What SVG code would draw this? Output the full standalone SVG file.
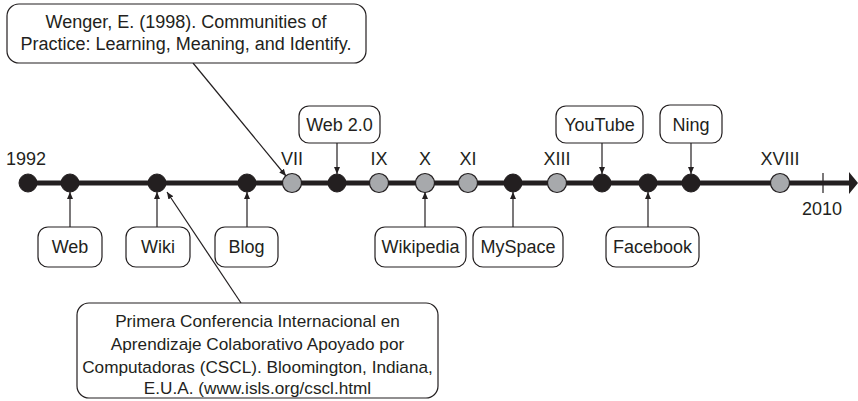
<svg xmlns="http://www.w3.org/2000/svg" width="858" height="401" viewBox="0 0 858 401">
<style>
text{font-family:"Liberation Sans",Arial,sans-serif;font-size:18px;fill:#231f20;text-anchor:middle}
.sm{font-size:17.2px}
.box{fill:#fff;stroke:#231f20;stroke-width:1.2}
.blk{fill:#231f20;stroke:#231f20;stroke-width:1}
.gry{fill:#a7a9ac;stroke:#231f20;stroke-width:1.2}
.con{stroke:#231f20;stroke-width:1.2;fill:none;marker-end:url(#ah)}
</style>
<defs>
<marker id="ah" markerWidth="8" markerHeight="8" refX="7" refY="4" orient="auto" markerUnits="userSpaceOnUse">
<path d="M0,1 L7,4 L0,7 Z" fill="#231f20"/>
</marker>
</defs>
<g id="axis">
<line x1="28" y1="183" x2="851" y2="183" stroke="#231f20" stroke-width="5"/>
<path d="M849,172 L858,183 L849,194 Z" fill="#231f20"/>
<line x1="823" y1="173" x2="823" y2="193" stroke="#231f20" stroke-width="1.2"/>
<text x="26" y="165">1992</text>
<text x="822" y="215">2010</text>
</g>
<g id="connectors">
<line class="con" x1="193" y1="63" x2="286" y2="176"/>
<line class="con" x1="241" y1="303" x2="167" y2="192"/>
<line class="con" x1="337" y1="143" x2="337" y2="174"/>
<line class="con" x1="602" y1="143" x2="602" y2="174"/>
<line class="con" x1="691" y1="143" x2="691" y2="174"/>
<line class="con" x1="70" y1="227" x2="70" y2="192"/>
<line class="con" x1="157" y1="227" x2="157" y2="192"/>
<line class="con" x1="247" y1="227" x2="247" y2="192"/>
<line class="con" x1="425" y1="227" x2="425" y2="192"/>
<line class="con" x1="513" y1="227" x2="513" y2="192"/>
<line class="con" x1="648" y1="227" x2="648" y2="192"/>
</g>
<g id="n1992"><circle class="blk" cx="28" cy="183" r="9"/></g>
<g id="nWeb"><circle class="blk" cx="70" cy="183" r="9"/></g>
<g id="nWiki"><circle class="blk" cx="157" cy="183" r="9"/></g>
<g id="nBlog"><circle class="blk" cx="247" cy="183" r="9"/></g>
<g id="nVII"><circle class="gry" cx="292" cy="183" r="9.5"/><text x="292" y="165">VII</text></g>
<g id="nWeb20"><circle class="blk" cx="337" cy="183" r="9"/></g>
<g id="nIX"><circle class="gry" cx="379" cy="183" r="9.5"/><text x="379" y="165">IX</text></g>
<g id="nX"><circle class="gry" cx="425" cy="183" r="9.5"/><text x="425" y="165">X</text></g>
<g id="nXI"><circle class="gry" cx="468" cy="183" r="9.5"/><text x="468" y="165">XI</text></g>
<g id="nMySpace"><circle class="blk" cx="513" cy="183" r="9"/></g>
<g id="nXIII"><circle class="gry" cx="557" cy="183" r="9.5"/><text x="557" y="165">XIII</text></g>
<g id="nYouTube"><circle class="blk" cx="602" cy="183" r="9"/></g>
<g id="nFacebook"><circle class="blk" cx="648" cy="183" r="9"/></g>
<g id="nNing"><circle class="blk" cx="691" cy="183" r="9"/></g>
<g id="nXVIII"><circle class="gry" cx="780" cy="183" r="9.5"/><text x="780" y="165">XVIII</text></g>
<g id="bWenger"><rect class="box" x="7" y="4" width="359" height="59" rx="12"/>
<text x="186" y="28">Wenger, E. (1998). Communities of</text>
<text x="186" y="50">Practice: Learning, Meaning, and Identify.</text></g>
<g id="bWeb20"><rect class="box" x="299" y="106" width="81" height="37" rx="10"/><text x="339.5" y="131">Web 2.0</text></g>
<g id="bYouTube"><rect class="box" x="556" y="106" width="87" height="37" rx="10"/><text x="599.5" y="131">YouTube</text></g>
<g id="bNing"><rect class="box" x="660" y="105" width="62" height="38" rx="10"/><text x="691" y="131">Ning</text></g>
<g id="bWeb"><rect class="box" x="38" y="227" width="64" height="40" rx="10"/><text x="70" y="253">Web</text></g>
<g id="bWiki"><rect class="box" x="126" y="227" width="64" height="40" rx="10"/><text x="158" y="253">Wiki</text></g>
<g id="bBlog"><rect class="box" x="215" y="227" width="63" height="40" rx="10"/><text x="246.5" y="253">Blog</text></g>
<g id="bWikipedia"><rect class="box" x="375" y="227" width="91" height="40" rx="10"/><text x="420.5" y="253">Wikipedia</text></g>
<g id="bMySpace"><rect class="box" x="473" y="227" width="90" height="40" rx="10"/><text x="518" y="253">MySpace</text></g>
<g id="bFacebook"><rect class="box" x="606" y="227" width="93" height="40" rx="10"/><text x="652.5" y="253">Facebook</text></g>
<g id="bCSCL"><rect class="box" x="77" y="303" width="361" height="95" rx="12"/>
<text class="sm" x="257.5" y="327">Primera Conferencia Internacional en</text>
<text class="sm" x="257.5" y="350">Aprendizaje Colaborativo Apoyado por</text>
<text class="sm" x="257.5" y="373">Computadoras (CSCL). Bloomington, Indiana,</text>
<text class="sm" x="257.5" y="394">E.U.A. (www.isls.org/cscl.html</text></g>
</svg>
